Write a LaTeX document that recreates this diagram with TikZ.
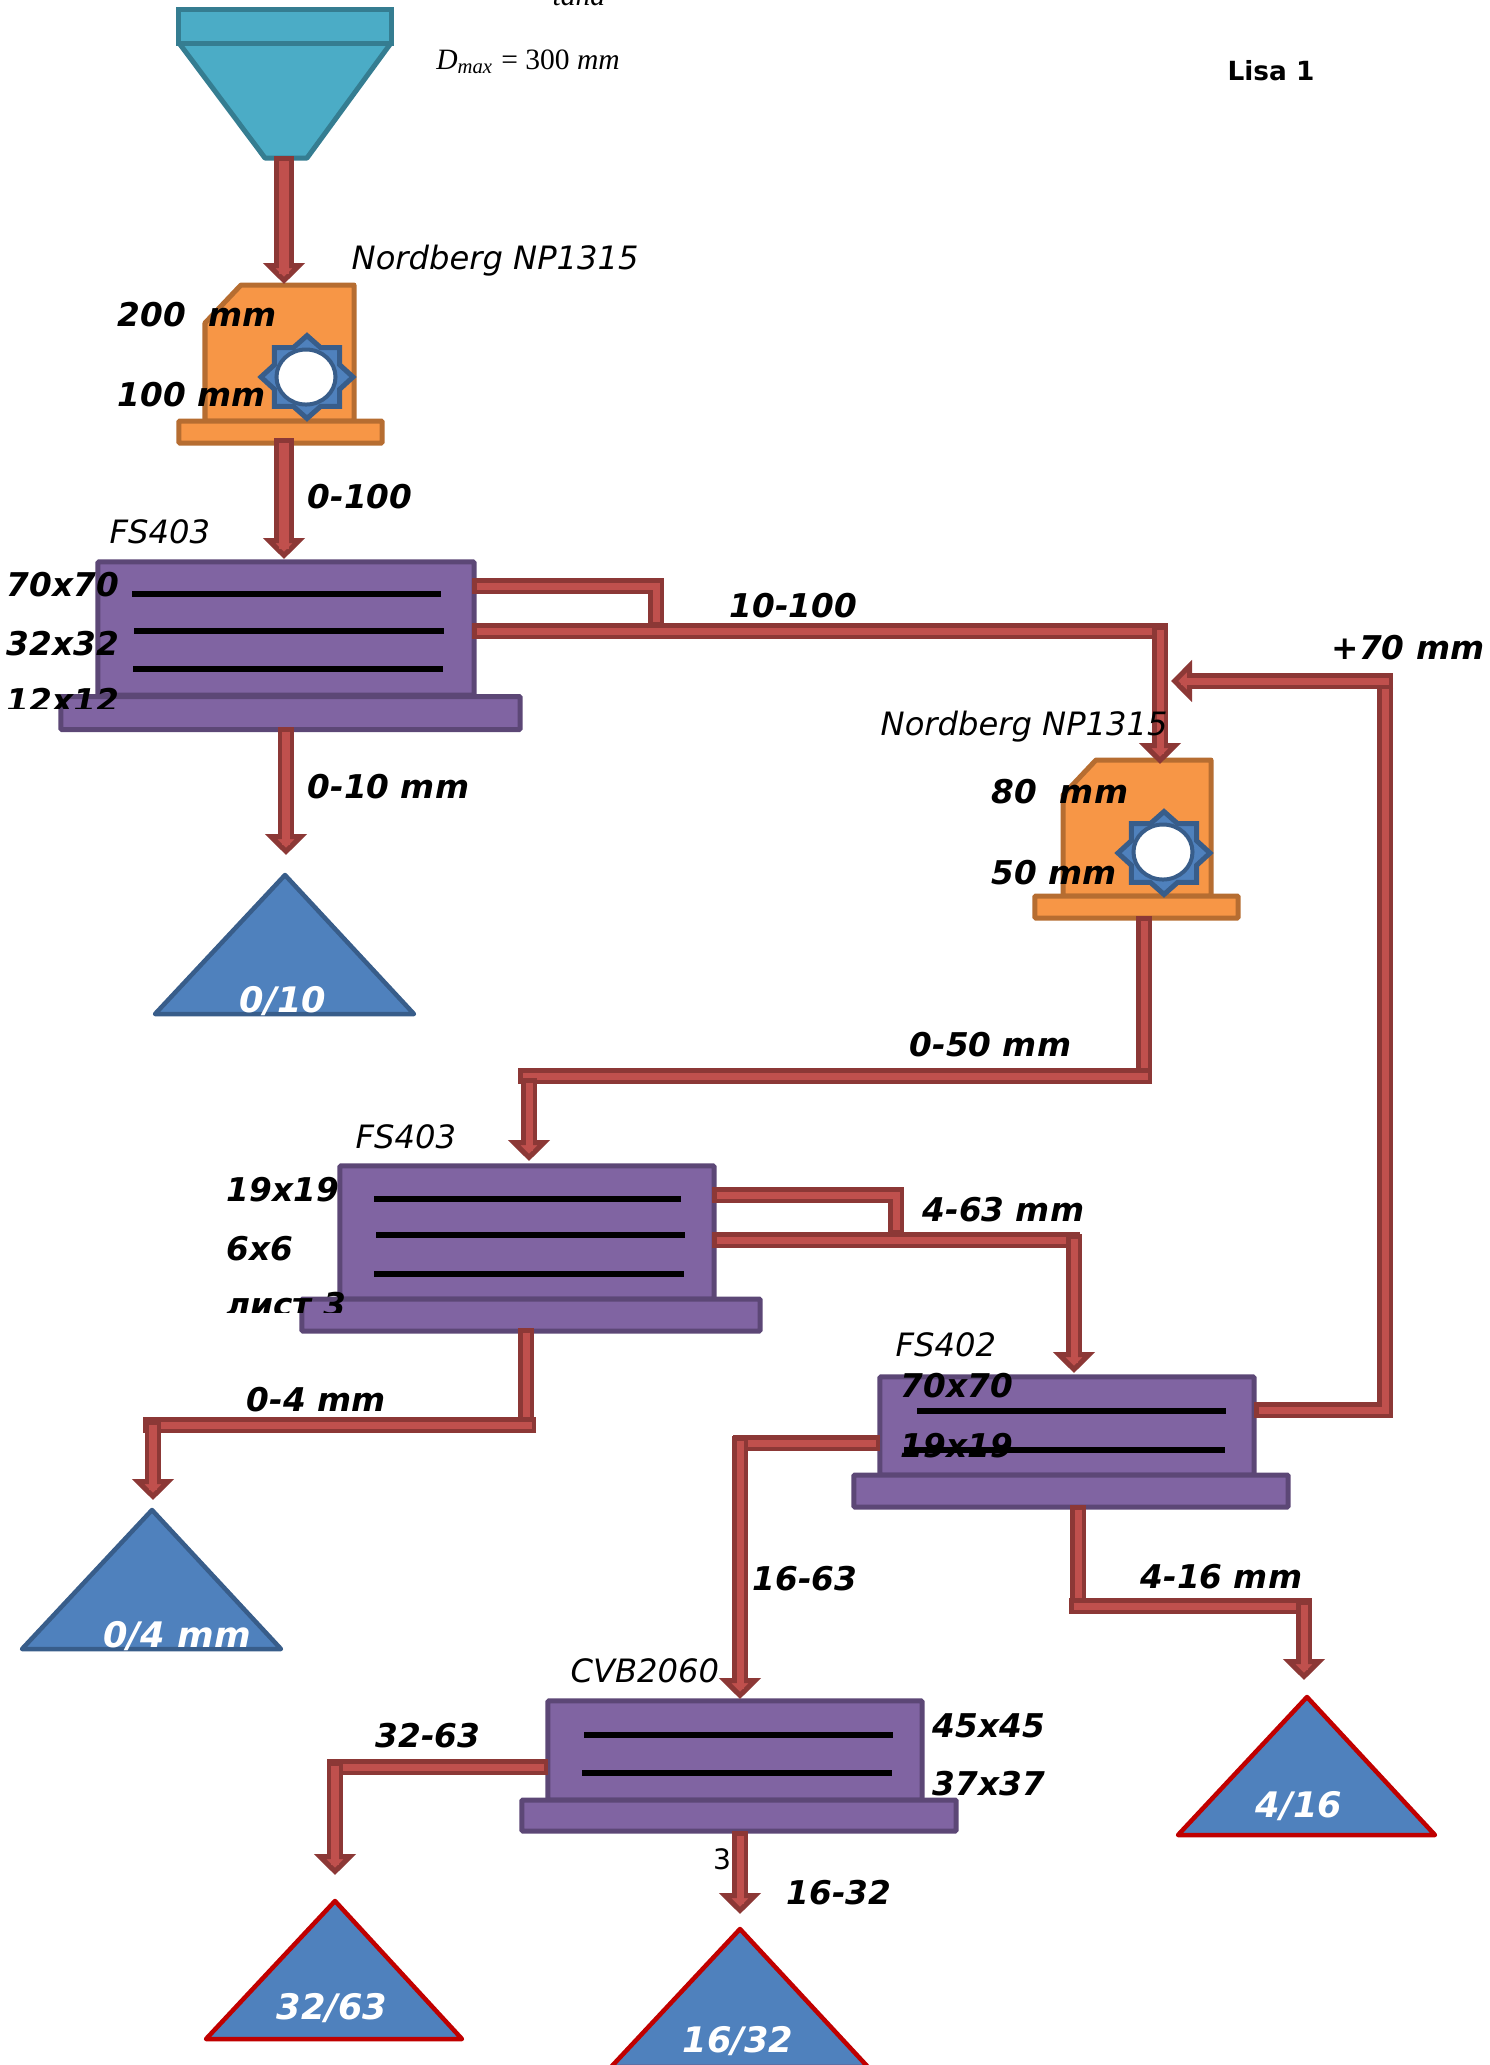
\documentclass[tikz,border=0pt]{standalone}
\usepackage{fontspec}
\setmainfont{DejaVu Sans}
\newfontfamily\formulafont{Liberation Serif}
\usetikzlibrary{shapes.geometric,arrows.meta}

\definecolor{hopperfill}{HTML}{4BACC6}
\definecolor{hopperedge}{HTML}{357D91}
\definecolor{crushfill}{HTML}{F79646}
\definecolor{crushedge}{HTML}{B66D31}
\definecolor{screenfill}{HTML}{8064A2}
\definecolor{screenedge}{HTML}{5C4776}
\definecolor{pipefill}{HTML}{C0504D}
\definecolor{pipeedge}{HTML}{8C3836}
\definecolor{gearfill}{HTML}{4F81BD}
\definecolor{gearedge}{HTML}{385D8A}
\definecolor{pilered}{HTML}{C00000}

\tikzset{
  hopper/.style={draw=hopperedge, fill=hopperfill, line width=0.05cm, line join=round},
  crusher/.style={draw=crushedge, fill=crushfill, line width=0.05cm, line join=round},
  box/.style={rectangle, draw=screenedge, fill=screenfill, line width=0.05cm, rounded corners=0.01cm, inner sep=0pt},
  crushbase/.style={box, draw=crushedge, fill=crushfill},
  deck/.style={draw=black, line width=0.06cm},
  pipe/.style={draw=pipefill, line width=0.07cm, shorten <=0.045cm, shorten >=0.045cm,
    preaction={draw=pipeedge, line width=0.16cm, shorten <=0pt, shorten >=0pt}},
  feed/.style={draw=pipefill, line width=0.07cm, shorten <=0.045cm, shorten >=0.1cm,
    preaction={draw=pipeedge, line width=0.16cm, shorten <=0pt, shorten >=0pt,
      -{Triangle[length=0.21cm, width=0.41cm, fill=pipefill, line width=0.05cm]}}},
  bigfeed/.style={draw=pipefill, line width=0.1cm, shorten <=0.05cm, shorten >=0.1cm,
    preaction={draw=pipeedge, line width=0.2cm, shorten <=0pt, shorten >=0pt,
      -{Triangle[length=0.21cm, width=0.41cm, fill=pipefill, line width=0.05cm]}}},
  gear/.style={star, star points=8, star point ratio=1.3, draw=gearedge, fill=gearfill, line width=0.05cm, inner sep=0pt, minimum size=0.92cm},
  hole/.style={ellipse, draw=gearedge, fill=white, line width=0.04cm, inner sep=0pt, minimum width=0.59cm, minimum height=0.55cm},
  pile/.style={draw=gearedge, fill=gearfill, line width=0.045cm, line join=round},
  hotpile/.style={pile, draw=pilered},
  size/.style={font=\bfseries\itshape\fontsize{9.3}{10}\selectfont, inner sep=0pt, anchor=west},
  model/.style={font=\itshape\fontsize{9.15}{10}\selectfont, inner sep=0pt, anchor=west},
  heap/.style={font=\bfseries\itshape\fontsize{10}{11}\selectfont, inner sep=0pt, text=white},
  formula/.style={font=\formulafont\fontsize{8.4}{10}\selectfont, inner sep=0pt},
}

\begin{document}
\begin{tikzpicture}[x=0.01cm, y=-0.01cm]
  \useasboundingbox (0,0) rectangle (1490,2065);

  % hopper
  \draw[hopper] (179,43) -- (391,43) -- (307,158) -- (265,158) -- cycle;
  \node[rectangle, draw=hopperedge, fill=hopperfill, line width=0.05cm, inner sep=0pt, minimum width=2.12cm, minimum height=0.34cm] (bin) at (285,26) {};
  \coordinate (binout) at (284,156);
  \begin{scope}
    \clip (500,0) rectangle (640,40);
    \node[formula] (tana) at (579,-3) {\itshape tana};
  \end{scope}
  \node[formula] (dmax) at (528,62) {\textit{D}\textsubscript{\textit{max}} = 300 \textit{mm}};
  \node[inner sep=0pt, font=\bfseries\fontsize{7.5}{10}\selectfont] (sheet) at (1271,71) {Lisa 1};

  % first crusher
  \draw[crusher] (205,323) -- (241,285) -- (354,285) -- (354,421) -- (205,421) -- cycle;
  \node[crushbase, minimum width=2.03cm, minimum height=0.22cm] (cr1base) at (280.5,432) {};
  \begin{scope}[shift={(307,377)}, yscale=0.9]
    \node[gear, transform shape] (cr1gear) at (0,0) {};
  \end{scope}
  \node[hole] (cr1hole) at (306,377) {};
  \coordinate (cr1in) at (284,284);
  \coordinate (cr1out) at (284,438);
  \node[model] (cr1name) at (351,261) {Nordberg NP1315};
  \node[size] (cr1a) at (117,315) {200\ \ mm};
  \node[size] (cr1b) at (117,395) {100 mm};

  % first screen
  \node[box, minimum width=3.76cm, minimum height=1.33cm] (sc1) at (286,628.5) {};
  \node[box, minimum width=4.59cm, minimum height=0.33cm] (sc1base) at (290.5,713) {};
  \draw[deck] (132,594) -- (441,594);
  \draw[deck] (134,631) -- (444,631);
  \draw[deck] (133,669) -- (443,669);
  \node[model] (sc1name) at (109,532) {FS403};
  \node[size] (sc1a) at (6,585) {70x70};
  \node[size] (sc1b) at (6,644) {32x32};
  \begin{scope}
    \clip (0,680) rectangle (200,708);
    \node[size] (sc1c) at (6,700.5) {12x12};
  \end{scope}

  % second crusher
  \draw[crusher] (1063,795) -- (1096,760) -- (1211,760) -- (1211,896) -- (1063,896) -- cycle;
  \node[crushbase, minimum width=2.03cm, minimum height=0.22cm] (cr2base) at (1136.5,907) {};
  \begin{scope}[shift={(1164,853)}, yscale=0.9]
    \node[gear, transform shape] (cr2gear) at (0,0) {};
  \end{scope}
  \node[hole] (cr2hole) at (1163,852) {};
  \coordinate (cr2in) at (1160,764);
  \node[size] (cr2a) at (991,792) {80\ \ mm};
  \node[size] (cr2b) at (991,873) {50 mm};

  % second screen
  \node[box, minimum width=3.74cm, minimum height=1.33cm] (sc2) at (527,1232.5) {};
  \node[box, minimum width=4.58cm, minimum height=0.32cm] (sc2base) at (531,1315) {};
  \draw[deck] (374,1199) -- (681,1199);
  \draw[deck] (376,1235) -- (685,1235);
  \draw[deck] (374,1274) -- (684,1274);
  \node[model] (sc2name) at (355,1137) {FS403};
  \node[size] (sc2a) at (226,1190) {19x19};
  \node[size] (sc2b) at (226,1249) {6x6};
  \begin{scope}
    \clip (200,1280) rectangle (400,1312);
    \node[size] (sc2c) at (226,1305) {лист 3};
  \end{scope}

  % third screen
  \node[box, minimum width=3.74cm, minimum height=0.98cm] (sc3) at (1067,1426) {};
  \node[box, minimum width=4.34cm, minimum height=0.32cm] (sc3base) at (1071,1491) {};
  \draw[deck] (917,1411) -- (1226,1411);
  \draw[deck] (904,1450) -- (1225,1450);
  \node[model] (sc3name) at (895,1345) {FS402};
  \node[size] (sc3a) at (900,1386) {70x70};
  \node[size] (sc3b) at (900,1446) {19x19};

  % fourth screen
  \node[box, minimum width=3.74cm, minimum height=0.99cm] (sc4) at (735,1750.5) {};
  \node[box, minimum width=4.34cm, minimum height=0.31cm] (sc4base) at (739,1815.5) {};
  \draw[deck] (584,1735) -- (893,1735);
  \draw[deck] (582,1773) -- (892,1773);
  \node[size] (sc4a) at (932,1726) {45x45};
  \node[size] (sc4b) at (932,1784) {37x37};
  \node[inner sep=0pt, font=\fontsize{8}{10}\selectfont] (sc4mark) at (722,1859) {3};

  % piles
  \draw[pile] (285,875) -- (414,1014) -- (155,1014) -- cycle;
  \node[heap] (p1) at (283,1001) {0/10};
  \draw[pile] (152,1510) -- (281,1649) -- (22,1649) -- cycle;
  \node[heap] (p2) at (177,1636) {0/4 mm};
  \draw[hotpile] (1307,1697) -- (1435,1835) -- (1178,1835) -- cycle;
  \node[heap] (p3) at (1299,1806) {4/16};
  \draw[hotpile] (335,1901) -- (462,2039) -- (206,2039) -- cycle;
  \node[heap] (p4) at (332,2008) {32/63};
  \draw[hotpile] (740,1929) -- (868,2067) -- (611,2067) -- cycle;
  \node[heap] (p5) at (738,2041) {16/32};

  % belts
  \draw[bigfeed] (binout) -- (cr1in);
  \draw[bigfeed] (cr1out) -- (284,559);
  \draw[feed] (286,727) -- (286,855);
  \draw[pipe] (472,586) -- (656,586) -- (656,626);
  \draw[pipe] (472,631) -- (1168,631);
  \draw[feed] (1160,625) -- (cr2in);
  \draw[pipe] (1144,916) -- (1144,1076);
  \draw[pipe] (1152,1076) -- (518,1076);
  \draw[feed] (529,1078) -- (529,1161);
  \draw[pipe] (712,1195) -- (896,1195) -- (896,1234);
  \draw[pipe] (712,1240) -- (1080,1240);
  \draw[feed] (1074,1234) -- (1074,1373);
  \draw[pipe] (526,1328) -- (526,1425);
  \draw[pipe] (536,1425) -- (143,1425);
  \draw[feed] (153,1420) -- (153,1500);
  \draw[pipe] (1254,1410) -- (1385,1410) -- (1385,681);
  \draw[feed] (1393,681) -- (1171,681);
  \draw[pipe] (880,1443) -- (733,1443);
  \draw[feed] (740,1436) -- (740,1699);
  \draw[pipe] (1078,1505) -- (1078,1606);
  \draw[pipe] (1069,1606) -- (1312,1606);
  \draw[feed] (1304,1600) -- (1304,1680);
  \draw[pipe] (548,1767) -- (327,1767);
  \draw[feed] (335,1761) -- (335,1875);
  \draw[feed] (740,1831) -- (740,1914);

  % belt labels
  \node[model] (cr2name) at (880,727) {Nordberg NP1315};
  \node[model] (sc4name) at (570,1671) {CVB2060};
  \node[size] (l1) at (307,497) {0-100};
  \node[size] (l2) at (729,606) {10-100};
  \node[size] (l3) at (307,787) {0-10 mm};
  \node[size] (l4) at (1331,648) {+70 mm};
  \node[size] (l5) at (909,1045) {0-50 mm};
  \node[size] (l6) at (922,1210) {4-63 mm};
  \node[size] (l7) at (246,1400) {0-4 mm};
  \node[size] (l8) at (752,1579) {16-63};
  \node[size] (l9) at (1140,1577) {4-16 mm};
  \node[size] (l10) at (375,1736) {32-63};
  \node[size] (l11) at (786,1893) {16-32};
\end{tikzpicture}
\end{document}
